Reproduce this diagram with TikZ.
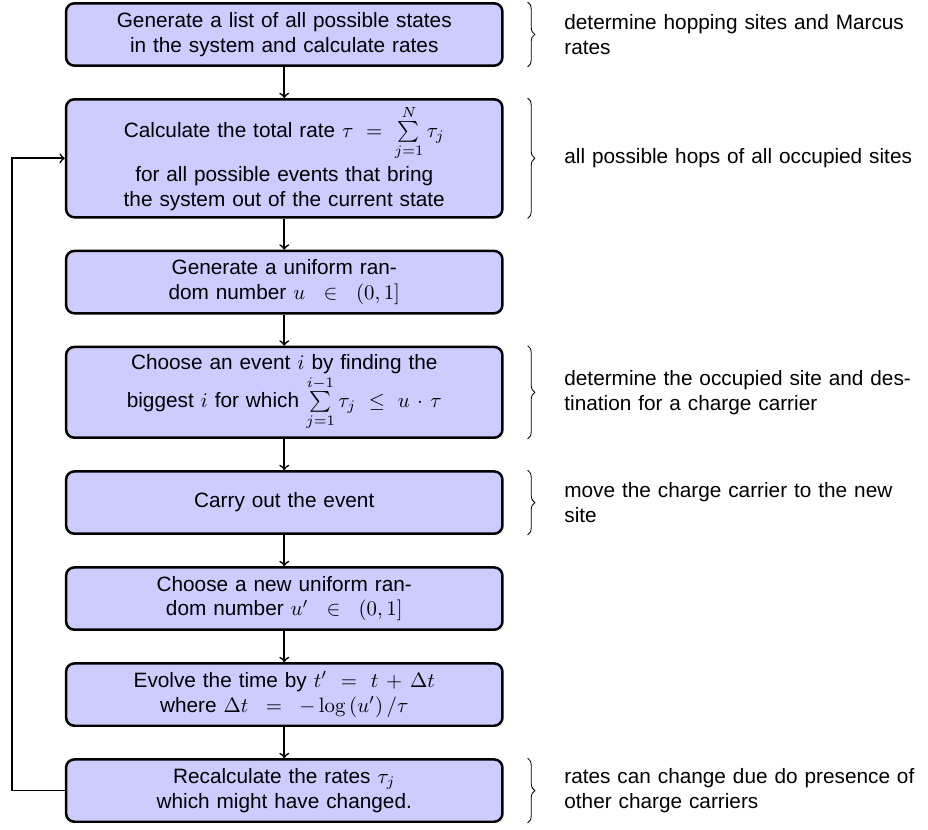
\documentclass[tikz,border=0pt]{standalone}
\usepackage[no-math]{fontspec}
\setmainfont{Liberation Sans}
\usepackage{tikz}
\usetikzlibrary{positioning,decorations.pathreplacing}

\begin{document}
\begin{tikzpicture}[node distance = 15pt,
	stepbox/.style = {draw, very thick, rounded corners=4pt, fill=blue!20,
		text width=200pt, minimum width=210pt, minimum height=30pt, align=center, inner sep=3pt},
	note/.style = {text width=175pt, align=left, inner sep=0pt},
	flow/.style = {->, thick},
	bracket/.style = {decorate, decoration={brace, amplitude=3.5pt}, thin}]

% the steps
\node[stepbox] (generate) {Generate a list of all possible states\\ in the system and calculate rates};
\node[stepbox, below=of generate, minimum height=56pt] (totalrate) {Calculate the total rate $\tau = \sum\limits_{j=1}^{N} \tau_j$\\[2pt] for all possible events that bring\\ the system out of the current state};
\node[stepbox, below=of totalrate] (random) {Generate a uniform ran-\\ dom number $u \in (0,1]$};
\node[stepbox, below=of random, minimum height=43.7pt] (choose) {Choose an event $i$ by finding the\\ biggest $i$ for which $\sum\limits_{j=1}^{i-1} \tau_j \le u \cdot \tau$};
\node[stepbox, below=of choose] (carryout) {Carry out the event};
\node[stepbox, below=of carryout] (newrandom) {Choose a new uniform ran-\\ dom number $u' \in (0,1]$};
\node[stepbox, below=of newrandom] (evolve) {Evolve the time by $t' = t + \Delta t$\\ where $\Delta t = -\log\left(u'\right)/\tau$};
\node[stepbox, below=of evolve] (recalc) {Recalculate the rates $\tau_j$\\ which might have changed.};

\draw[flow] (generate) -- (totalrate);
\draw[flow] (totalrate) -- (random);
\draw[flow] (random) -- (choose);
\draw[flow] (choose) -- (carryout);
\draw[flow] (carryout) -- (newrandom);
\draw[flow] (newrandom) -- (evolve);
\draw[flow] (evolve) -- (recalc);
\draw[flow] (recalc.west) -- ++(-25.4pt,0) |- (totalrate.west);

% the comments
\draw[bracket] ([xshift=11.5pt]generate.north east) -- ([xshift=11.5pt]generate.south east);
\node[note, right=29pt of generate.east] (generatenote) {determine hopping sites and Marcus\\ rates};
\draw[bracket] ([xshift=11.5pt]totalrate.north east) -- ([xshift=11.5pt]totalrate.south east);
\node[note, right=29pt of totalrate.east] (totalratenote) {all possible hops of all occupied sites};
\draw[bracket] ([xshift=11.5pt]choose.north east) -- ([xshift=11.5pt]choose.south east);
\node[note, right=29pt of choose.east] (choosenote) {determine the occupied site and des-\\ tination for a charge carrier};
\draw[bracket] ([xshift=11.5pt]carryout.north east) -- ([xshift=11.5pt]carryout.south east);
\node[note, right=29pt of carryout.east] (carryoutnote) {move the charge carrier to the new\\ site};
\draw[bracket] ([xshift=11.5pt]recalc.north east) -- ([xshift=11.5pt]recalc.south east);
\node[note, right=29pt of recalc.east] (recalcnote) {rates can change due do presence of\\ other charge carriers};

\useasboundingbox ([xshift=-31.2pt,yshift=1pt]generate.north west) rectangle ([xshift=204pt,yshift=-2.9pt]recalc.south east);
\end{tikzpicture}
\end{document}
